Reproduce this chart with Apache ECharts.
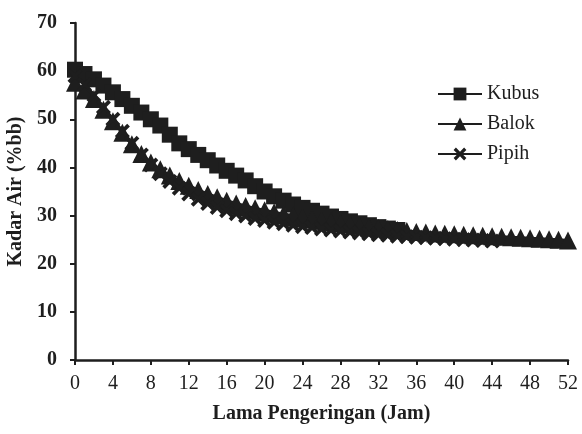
<!DOCTYPE html>
<html>
<head>
<meta charset="utf-8">
<script src="https://cdn.jsdelivr.net/npm/echarts@6/dist/echarts.min.js"></script>
<style>
  html, body { margin: 0; padding: 0; background: #fff; }
  #chart { width: 582px; height: 434px; }
</style>
</head>
<body>
<div id="chart"></div>
<script>
var kubus = [60.3, 59.4, 58.3, 57.0, 55.6, 54.2, 52.8, 51.4, 50.0, 48.7, 46.8, 45.0, 43.8, 42.6,
    41.5, 40.4, 39.3, 38.3, 37.3, 36.1, 35.0, 34.0, 33.1, 32.3, 31.6, 31.0, 30.4, 29.8, 29.3,
    28.8, 28.4, 28.0, 27.6, 27.3, 27.0];
var balok = [57.6, 56.0, 54.2, 52.0, 49.6, 47.2, 44.8, 42.8, 41.0, 39.6, 38.3, 37.2, 36.2, 35.3,
    34.5, 33.8, 33.1, 32.5, 32.0, 31.5, 31.1, 30.7, 30.3, 30.0, 29.7, 29.4, 29.1, 28.8, 28.5,
    28.2, 27.9, 27.6, 27.4, 27.2, 27.0, 26.8, 26.6, 26.5, 26.3, 26.2, 26.1, 26.0, 25.9, 25.8,
    25.7, 25.6, 25.5, 25.4, 25.3, 25.2, 25.1, 25.0, 24.8];
var pipih = [59.0, 57.2, 55.0, 52.5, 50.0, 47.5, 45.0, 42.6, 40.5, 38.7, 37.1, 35.7, 34.5, 33.4,
    32.5, 31.7, 31.0, 30.4, 29.9, 29.4, 29.0, 28.6, 28.3, 28.0, 27.7, 27.5, 27.2, 27.0, 26.8,
    26.6, 26.4, 26.2, 26.0, 25.9, 25.7, 25.6, 25.5, 25.4, 25.3, 25.2, 25.1, 25.0, 24.9, 24.8, 24.7];

// hour index -> [x, y]
function pairs(arr) {
    return arr.map(function (v, i) { return [i, v]; });
}

var ink = '#1e1e1e';
var serif = '"Liberation Serif", "DejaVu Serif", serif';
var cross = 'path://M0,1.8 L1.8,0 L5,3.2 L8.2,0 L10,1.8 L6.8,5 L10,8.2 L8.2,10 L5,6.8 L1.8,10 L0,8.2 L3.2,5 Z';

var myChart = echarts.init(document.getElementById('chart'));
var option = {
    animation: false,
    grid: {
        left: 75,
        right: 14,
        top: 23,
        bottom: 74,
        outerBoundsMode: 'none'
    },
    legend: {
        orient: 'vertical',
        left: 432,
        top: 79,
        itemWidth: 44,
        itemHeight: 16,
        itemGap: 10,
        textStyle: {
            color: ink,
            fontFamily: serif,
            fontSize: 20
        },
        data: ['Kubus', 'Balok', 'Pipih']
    },
    xAxis: {
        type: 'value',
        min: 0,
        max: 52,
        interval: 4,
        name: 'Lama Pengeringan (Jam)',
        nameLocation: 'middle',
        nameGap: 44,
        nameTextStyle: {
            color: ink,
            fontFamily: serif,
            fontWeight: 'bold',
            fontSize: 20
        },
        axisLine: { lineStyle: { color: ink, width: 2.5 } },
        axisTick: { length: 5, lineStyle: { color: ink, width: 2 } },
        axisLabel: {
            color: ink,
            fontFamily: serif,
            fontSize: 20,
            margin: 14
        },
        splitLine: { show: false }
    },
    yAxis: {
        type: 'value',
        min: 0,
        max: 70,
        interval: 10,
        name: 'Kadar Air (%bb)',
        nameLocation: 'middle',
        nameGap: 47,
        nameTextStyle: {
            color: ink,
            fontFamily: serif,
            fontWeight: 'bold',
            fontSize: 20
        },
        axisLine: { show: true, lineStyle: { color: ink, width: 2.5 } },
        axisTick: { show: true, length: 5, lineStyle: { color: ink, width: 2 } },
        axisLabel: {
            color: ink,
            fontFamily: serif,
            fontWeight: 'bold',
            fontSize: 20,
            margin: 18
        },
        splitLine: { show: false }
    },
    series: [
        {
            name: 'Kubus',
            type: 'line',
            data: pairs(kubus),
            symbol: 'rect',
            symbolSize: 16,
            lineStyle: { color: ink, width: 3 },
            itemStyle: { color: ink }
        },
        {
            name: 'Balok',
            type: 'line',
            data: pairs(balok),
            symbol: 'triangle',
            symbolSize: 18,
            lineStyle: { color: ink, width: 3 },
            itemStyle: { color: ink }
        },
        {
            name: 'Pipih',
            type: 'line',
            data: pairs(pipih),
            symbol: cross,
            symbolSize: 15,
            lineStyle: { color: ink, width: 3 },
            itemStyle: { color: ink }
        }
    ]
};
myChart.setOption(option, true);
window.onresize = myChart.resize;
</script>
</body>
</html>
